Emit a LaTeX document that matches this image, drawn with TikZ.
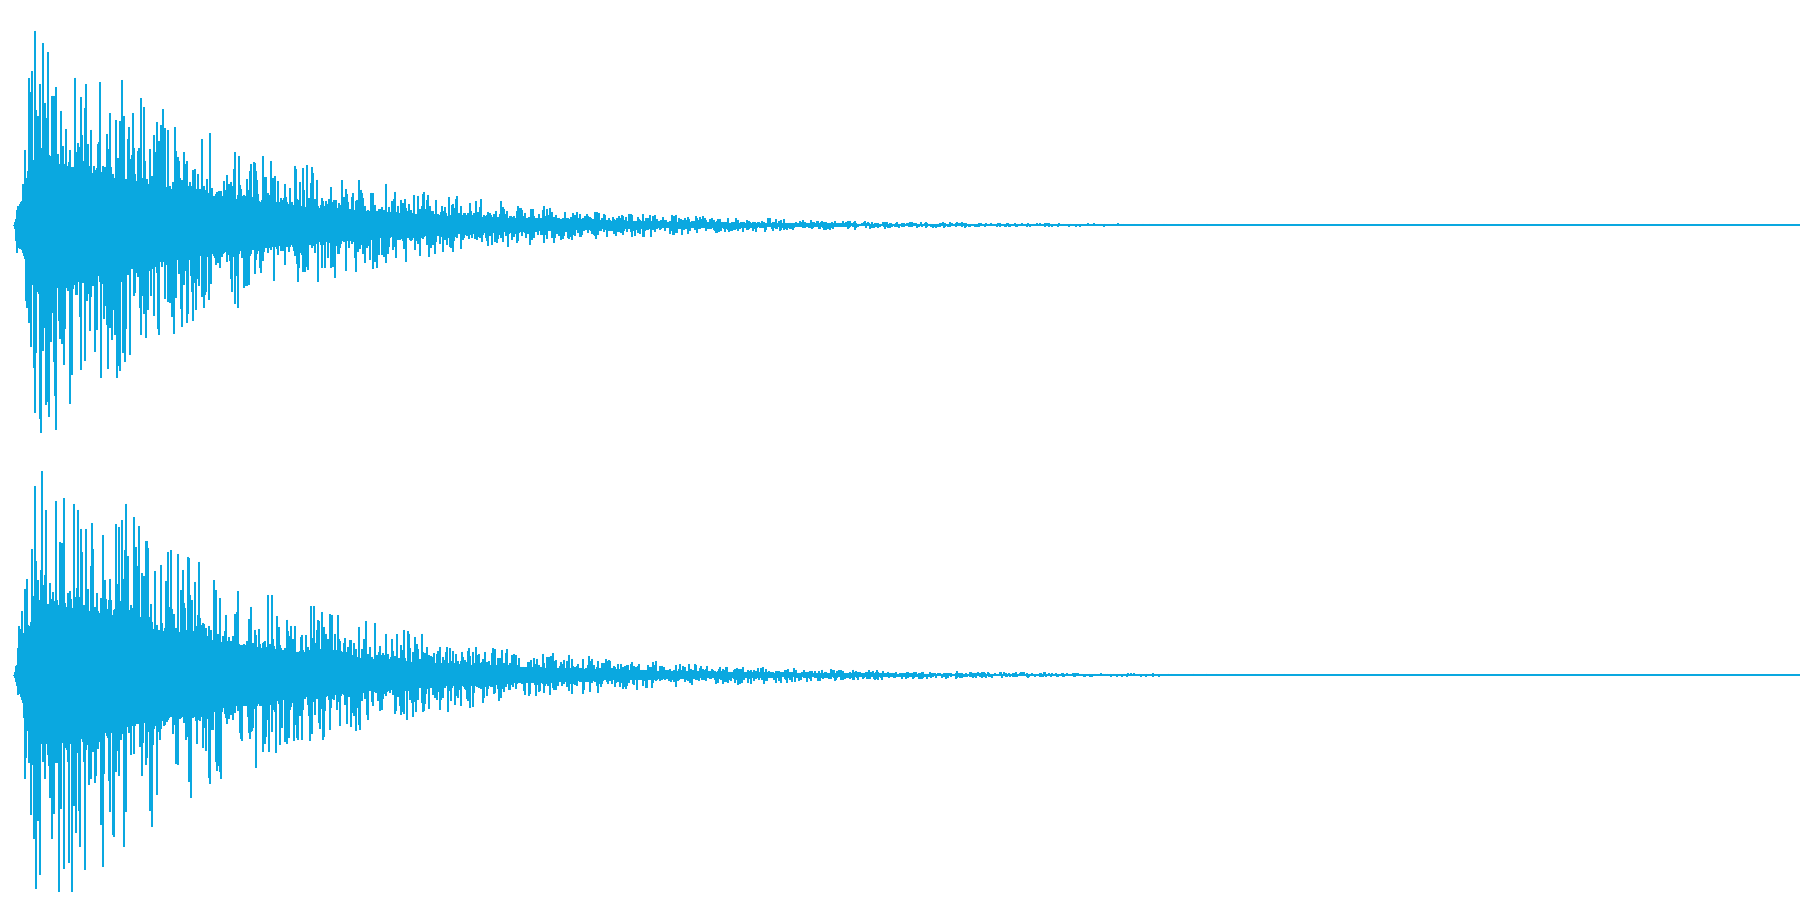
\documentclass[tikz,border=0pt]{standalone}
\definecolor{wave}{HTML}{0AA8E0}
\begin{document}
\begin{tikzpicture}[x=0.01cm,y=-0.01cm,wl/.style={wave,line width=0.3pt}]
\fill[white] (0,0) rectangle (1800,900);
\useasboundingbox (0,0) rectangle (1800,900);
\pgfmathsetseed{7}
\foreach \c/\p/\k/\A in {225/40/205/222, 675/70/210/225}{
  \draw[wl] (14,\c) -- (1800,\c);
  \foreach \x in {14,...,1300}{
    \pgfmathsetmacro\e{\A*min(1,(\x-14)/22)*exp(-max(0,\x-\p)/\k)+0.4}
    \pgfmathsetmacro\u{\e*(0.3+0.7*rnd^3)}
    \pgfmathsetmacro\d{\e*(0.3+0.7*rnd^3)}
    \draw[wl] (\x,\c-\u) -- (\x,\c+\d);
  }
}
\end{tikzpicture}
\end{document}
